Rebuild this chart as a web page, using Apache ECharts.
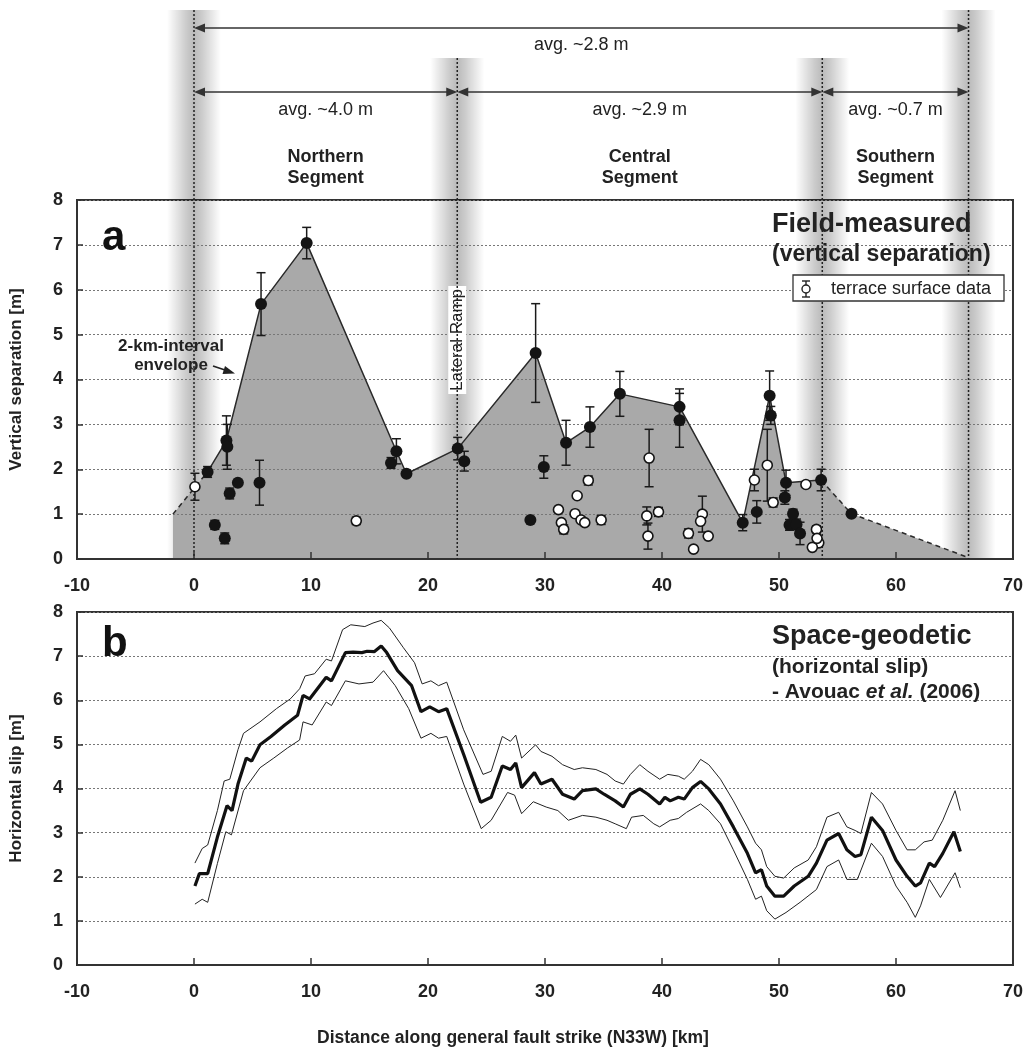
<!DOCTYPE html>
<html><head><meta charset="utf-8">
<script src="https://cdn.jsdelivr.net/npm/echarts@6/dist/echarts.min.js"></script>
<style>html,body{margin:0;padding:0;background:#fff}#c{width:1026px;height:1048px}</style>
</head><body><div id="c"></div>
<script>
// ---------- DATA ----------
// segment boundaries along strike [km]
const boundaryKm = [0, 22.5, 53.7, 66.2];
const segmentNames = ['Northern\nSegment', 'Central\nSegment', 'Southern\nSegment'];
// average-slip arrows
const avgFrom = [0, 0, 22.5, 53.7];
const avgTo = [66.2, 22.5, 53.7, 66.2];
const avgLabel = ['avg. ~2.8 m', 'avg. ~4.0 m', 'avg. ~2.9 m', 'avg. ~0.7 m'];

// panel a: field-measured vertical separation (filled = main data)
const solidKm  = [1.16, 2.77, 2.85, 1.78, 2.63, 3.05, 3.75, 5.6, 5.73, 9.63, 16.84, 17.3, 18.16, 22.54, 23.1, 28.75, 29.2, 29.9, 31.8, 33.84, 36.4, 41.5, 41.5, 46.9, 48.1, 49.2, 49.3, 50.6, 50.5, 51.2, 50.9, 51.5, 51.8, 53.6, 56.2];
const solidVal = [1.94, 2.64, 2.50, 0.76, 0.46, 1.46, 1.70, 1.70, 5.68, 7.04, 2.14, 2.40, 1.90, 2.46, 2.18, 0.87, 4.59, 2.05, 2.59, 2.94, 3.68, 3.39, 3.09, 0.81, 1.05, 3.64, 3.20, 1.70, 1.37, 1.01, 0.76, 0.77, 0.57, 1.76, 1.01];
const solidErr = [0.12, 0.55, 0.5, 0.1, 0.12, 0.12, 0.05, 0.5, 0.7, 0.35, 0.12, 0.28, 0.05, 0.25, 0.22, 0, 1.1, 0.25, 0.5, 0.45, 0.5, 0.4, 0.6, 0.18, 0.25, 0.55, 0.2, 0.28, 0.15, 0.1, 0.12, 0.12, 0.25, 0.24, 0];
// terrace surface data (open circles)
const openKm  = [0.08, 13.87, 31.15, 31.4, 31.6, 32.75, 33.7, 32.57, 33.08, 33.4, 34.8, 38.9, 38.7, 38.8, 39.7, 42.26, 42.7, 43.45, 43.3, 43.95, 47.9, 49.0, 49.5, 52.3, 53.2, 53.4, 52.85, 53.25];
const openVal = [1.61, 0.85, 1.10, 0.81, 0.66, 1.41, 1.75, 1.01, 0.87, 0.81, 0.87, 2.25, 0.96, 0.51, 1.05, 0.57, 0.22, 1.00, 0.84, 0.51, 1.76, 2.09, 1.26, 1.66, 0.66, 0.36, 0.26, 0.46];
const openErr = [0.3, 0.08, 0, 0, 0.1, 0.05, 0.1, 0, 0, 0.05, 0.1, 0.64, 0.2, 0.29, 0.1, 0.1, 0, 0.4, 0, 0, 0.24, 0.8, 0.1, 0, 0.08, 0, 0.05, 0];
// 2-km-interval envelope (indices 0-1 and 16-19 dashed)
const envKm  = [-1.8, 1.16, 2.77, 5.73, 9.63, 17.3, 18.16, 22.54, 29.2, 31.8, 33.84, 36.4, 41.5, 46.9, 49.2, 50.6, 53.6, 55.7, 56.2, 66.0];
const envVal = [1.0, 1.94, 2.64, 5.68, 7.04, 2.40, 1.90, 2.46, 4.59, 2.59, 2.94, 3.68, 3.39, 0.81, 3.64, 1.70, 1.76, 1.15, 1.01, 0.05];

// panel b: space-geodetic horizontal slip (Avouac et al. 2006)
const midKm = [0.08,0.46,1.17,2.0,2.82,3.25,3.76,4.47,4.93,5.64,6.58,7.76,8.85,9.32,9.88,11.3,11.75,12.94,13.6,14.35,14.8,15.4,16.0,16.47,17.4,18.6,19.4,20.15,20.9,21.6,23.05,24.5,25.4,26.35,27.05,27.5,28.0,29.1,29.65,30.6,31.5,32.5,33.2,34.35,35.05,36.0,36.7,37.3,38.1,38.8,39.8,40.25,40.7,41.4,41.9,42.6,43.3,44.0,45.0,46.1,47.3,48.0,48.5,48.95,49.65,50.4,51.3,52.5,53.2,54.1,55.1,55.8,56.5,57.0,57.9,58.85,60.0,60.95,61.65,62.1,62.85,63.3,64.0,64.95,65.5];
const midSlip = [1.79,2.07,2.07,2.9,3.61,3.5,4.10,4.69,4.62,4.99,5.18,5.44,5.66,6.11,6.03,6.52,6.44,7.08,7.09,7.08,7.11,7.1,7.23,7.08,6.67,6.33,5.74,5.85,5.74,5.81,4.77,3.69,3.80,4.51,4.43,4.58,4.02,4.36,4.10,4.21,3.87,3.76,3.95,3.99,3.87,3.72,3.58,3.87,3.99,3.87,3.65,3.80,3.72,3.80,3.76,4.02,4.16,3.99,3.65,3.13,2.53,2.09,2.16,1.79,1.56,1.56,1.79,2.01,2.31,2.83,2.98,2.61,2.46,2.5,3.35,3.05,2.38,2.01,1.79,1.86,2.31,2.23,2.53,3.02,2.57];
const upKm = [0.08,0.7,1.17,2.0,2.58,3.06,3.76,4.23,5.64,7.05,8.23,9.03,9.5,10.3,11.3,11.75,12.7,13.4,14.6,15.3,16.0,16.7,17.9,18.85,19.5,20.25,20.9,21.6,23.05,24.7,25.4,26.35,27.05,27.5,28.0,29.2,29.65,30.6,31.5,32.5,33.2,34.35,35.3,36.0,36.7,37.3,38.1,38.8,39.8,40.5,41.4,41.9,42.6,43.3,44.0,45.0,46.1,47.3,48.0,48.5,48.95,49.65,50.4,51.3,52.5,53.2,54.1,55.1,55.8,56.5,57.0,57.9,58.85,60.0,60.95,61.65,62.4,63.1,64.0,65.05,65.5];
const upSlip = [2.31,2.64,2.72,3.5,4.17,4.21,4.88,5.25,5.51,5.81,6.03,6.26,6.55,6.6,6.93,6.89,7.6,7.71,7.67,7.75,7.81,7.64,7.19,6.85,6.37,6.44,6.33,6.41,5.33,4.32,4.39,5.18,5.07,5.21,4.69,4.99,4.84,4.73,4.54,4.43,4.47,4.43,4.32,4.17,4.10,4.32,4.54,4.39,4.21,4.32,4.28,4.21,4.39,4.66,4.54,4.21,3.72,3.13,2.76,2.61,2.23,2.01,1.97,2.2,2.38,2.68,3.35,3.46,3.13,3.05,2.98,3.91,3.65,3.05,2.61,2.61,2.79,2.83,3.28,3.95,3.5];
const lowKm = [0.08,0.7,1.17,2.0,2.72,3.2,4.23,5.64,6.82,8.0,9.03,9.32,10.1,11.3,11.75,12.94,14.1,15.3,16.2,17.2,18.35,19.4,20.25,20.9,21.6,23.05,24.55,25.4,26.8,27.4,28.0,29.0,30.1,31.1,32.0,33.2,34.35,35.3,36.0,36.95,37.4,38.4,39.3,39.8,40.7,41.4,42.1,43.3,44.0,45.0,46.1,47.3,48.0,48.5,48.95,49.65,50.6,51.8,53.2,54.1,55.1,55.8,56.7,57.9,58.85,60.0,60.95,61.65,62.1,62.85,63.8,65.05,65.5];
const lowSlip = [1.38,1.49,1.42,2.3,3.02,2.95,3.95,4.47,4.69,4.92,5.1,5.51,5.44,5.96,5.88,6.44,6.37,6.41,6.67,6.33,5.81,5.14,5.25,5.14,5.18,4.1,3.09,3.28,3.91,3.85,3.43,3.7,3.58,3.5,3.28,3.39,3.35,3.28,3.2,3.09,3.35,3.39,3.2,3.13,3.28,3.32,3.46,3.65,3.5,3.2,2.61,1.94,1.49,1.56,1.23,1.04,1.19,1.42,1.71,2.23,2.38,1.94,1.94,2.76,2.46,1.79,1.42,1.08,1.34,1.94,1.53,2.09,1.75];

// ---------- CHART ----------
const FONT = "'Liberation Sans', Arial, Helvetica, sans-serif";
const INK = '#222';
const zip = (a, b, c) => a.map((v, i) => c ? [v, b[i], c[i]] : [v, b[i]]);

const chart = echarts.init(document.getElementById('c'), null, {renderer: 'canvas'});

function xAxisCfg(gi, name) {
  return {
    gridIndex: gi, type: 'value', min: -10, max: 70, interval: 10, z: 3,
    name: name || '', nameLocation: 'middle', nameGap: 64,
    nameTextStyle: {fontFamily: FONT, fontWeight: 'bold', fontSize: 17.5, color: INK, padding: [0, 64, 0, 0]},
    axisLine: {show: true, onZero: false, lineStyle: {color: '#333', width: 2}},
    axisTick: {show: true, inside: true, length: 7, lineStyle: {color: '#333', width: 1.5}},
    axisLabel: {fontFamily: FONT, fontWeight: 'bold', fontSize: 18, color: INK, margin: 18},
    splitLine: {show: false}
  };
}
function yAxisCfg(gi, name) {
  return {
    gridIndex: gi, type: 'value', min: 0, max: 8, interval: 1, z: 3,
    name: name, nameLocation: 'middle', nameGap: 52, nameRotate: 90,
    nameTextStyle: {fontFamily: FONT, fontWeight: 'bold', fontSize: 17, color: INK},
    axisLine: {show: true, onZero: false, lineStyle: {color: '#333', width: 2}},
    axisTick: {show: true, inside: true, length: 6, lineStyle: {color: '#333', width: 1.5}},
    axisLabel: {fontFamily: FONT, fontWeight: 'bold', fontSize: 18, color: INK, margin: 14},
    splitLine: {show: true, lineStyle: {color: '#777', width: 1, type: [2, 2]}}
  };
}

function errItem(params, api) {
  const x = api.value(0), y = api.value(1), e = api.value(2);
  if (!e) return null;
  const t = api.coord([x, y + e]), b = api.coord([x, y - e]);
  const w = 4.5, st = {stroke: '#1a1a1a', lineWidth: 1.5};
  return {type: 'group', children: [
    {type: 'line', shape: {x1: t[0], y1: t[1], x2: b[0], y2: b[1]}, style: st},
    {type: 'line', shape: {x1: t[0] - w, y1: t[1], x2: t[0] + w, y2: t[1]}, style: st},
    {type: 'line', shape: {x1: b[0] - w, y1: b[1], x2: b[0] + w, y2: b[1]}, style: st}
  ]};
}

// grey shaded columns at segment boundaries (under the envelope fill)
function bandItem(params, api) {
  const i = params.dataIndex;
  const p = api.coord([api.value(0), 0]);
  const outer = (i === 0 || i === boundaryKm.length - 1);
  const top = params.coordSys.y - (outer ? 190 : 142);
  const hw = 27;
  return {type: 'rect', shape: {x: p[0] - hw, y: top, width: hw * 2, height: p[1] - top},
    style: {fill: new echarts.graphic.LinearGradient(0, 0, 1, 0, [
      {offset: 0, color: 'rgba(0,0,0,0)'},
      {offset: 0.35, color: 'rgba(0,0,0,0.2)'},
      {offset: 0.5, color: 'rgba(0,0,0,0.27)'},
      {offset: 0.65, color: 'rgba(0,0,0,0.2)'},
      {offset: 1, color: 'rgba(0,0,0,0)'}])}};
}
// dotted boundary lines + "Lateral Ramp"
function boundaryLineItem(params, api) {
  const i = params.dataIndex;
  const p = api.coord([api.value(0), 0]);
  const outer = (i === 0 || i === boundaryKm.length - 1);
  const top = params.coordSys.y - (outer ? 190 : 142);
  const children = [];
  const cy = params.coordSys.y + 140;
  if (i === 1) {
    children.push({type: 'rect', shape: {x: p[0] - 9, y: cy - 54, width: 18, height: 108}, style: {fill: '#fff'}});
  }
  children.push({type: 'line', shape: {x1: p[0], y1: top, x2: p[0], y2: p[1]},
    style: {stroke: '#222', lineWidth: 1.5, lineDash: [2, 2]}});
  if (i === 1) {
    children.push({type: 'text', x: p[0], y: cy, rotation: Math.PI / 2,
      style: {text: 'Lateral Ramp', x: 0, y: 0, align: 'center', verticalAlign: 'middle', textAlign: 'center', textVerticalAlign: 'middle',
        font: '17px ' + FONT, fill: INK}});
  }
  return {type: 'group', children};
}
// average arrows and labels above panel a
function arrowItem(params, api) {
  const i = params.dataIndex;
  const x1 = api.coord([api.value(0), 0])[0], x2 = api.coord([api.value(1), 0])[0];
  const gy = params.coordSys.y;
  const y = gy - (i === 0 ? 172 : 108);
  const ly = gy - (i === 0 ? 155 : 90);
  const L = 11, H = 4.5, col = '#333';
  return {type: 'group', children: [
    {type: 'line', shape: {x1: x1 + 4, y1: y, x2: x2 - 4, y2: y}, style: {stroke: col, lineWidth: 1.6}},
    {type: 'polygon', shape: {points: [[x1, y], [x1 + L, y - H], [x1 + L, y + H]]}, style: {fill: col}},
    {type: 'polygon', shape: {points: [[x2, y], [x2 - L, y - H], [x2 - L, y + H]]}, style: {fill: col}},
    {type: 'text', style: {text: avgLabel[i], x: (x1 + x2) / 2, y: ly, textAlign: 'center', textVerticalAlign: 'middle', verticalAlign: 'middle',
      font: '18px ' + FONT, fill: INK}}
  ]};
}
function segNameItem(params, api) {
  const i = params.dataIndex;
  const x = api.coord([(api.value(0) + api.value(1)) / 2, 0])[0];
  const gy = params.coordSys.y;
  return {type: 'text', style: {text: segmentNames[i], x: x, y: gy - 32, textAlign: 'center', textVerticalAlign: 'middle', verticalAlign: 'middle',
    font: 'bold 18px ' + FONT, fill: INK, lineHeight: 21}};
}

const envAll = zip(envKm, envVal);
const envSolid = envAll.slice(1, 17);
const envDashL = envAll.slice(0, 2);
const envDashR = envAll.slice(16);
const segPairs = boundaryKm.slice(0, -1).map((b, i) => [b, boundaryKm[i + 1]]);

const option = {
  backgroundColor: '#fff',
  animation: false,
  grid: [
    {left: 71, top: 200, width: 942, height: 359, show: true, borderColor: '#333', borderWidth: 2, backgroundColor: 'rgba(0,0,0,0)', containLabel: false},
    {left: 71, top: 612, width: 942, height: 358, show: true, borderColor: '#333', borderWidth: 2, backgroundColor: 'rgba(0,0,0,0)', containLabel: false}
  ],
  xAxis: [xAxisCfg(0), xAxisCfg(1, 'Distance along general fault strike (N33W) [km]')],
  yAxis: [yAxisCfg(0, 'Vertical separation [m]'), yAxisCfg(1, 'Horizontal slip [m]')],
  series: [
    {type: 'custom', name: 'bands', xAxisIndex: 0, yAxisIndex: 0, z: 1, clip: false, silent: true,
      data: boundaryKm.map(k => [k, 0]), encode: {x: 0, y: 1}, renderItem: bandItem},
    {type: 'line', name: 'envelope fill', xAxisIndex: 0, yAxisIndex: 0, z: 2, data: envAll, symbol: 'none',
      lineStyle: {width: 0}, areaStyle: {color: '#a9a9a9', opacity: 1}},
    {type: 'line', name: 'envelope', xAxisIndex: 0, yAxisIndex: 0, z: 4, data: envSolid, symbol: 'none',
      lineStyle: {color: '#2a2a2a', width: 1.5}},
    {type: 'line', name: 'envelope dashed L', xAxisIndex: 0, yAxisIndex: 0, z: 4, data: envDashL, symbol: 'none',
      lineStyle: {color: '#2a2a2a', width: 1.5, type: [5, 4]}},
    {type: 'line', name: 'envelope dashed R', xAxisIndex: 0, yAxisIndex: 0, z: 4, data: envDashR, symbol: 'none',
      lineStyle: {color: '#2a2a2a', width: 1.5, type: [5, 4]}},
    {type: 'custom', name: 'boundaries', xAxisIndex: 0, yAxisIndex: 0, z: 4, clip: false, silent: true,
      data: boundaryKm.map(k => [k, 0]), encode: {x: 0, y: 1}, renderItem: boundaryLineItem},
    {type: 'custom', name: 'avg', xAxisIndex: 0, yAxisIndex: 0, z: 4, clip: false, silent: true,
      data: zip(avgFrom, avgTo), encode: {x: [0, 1]}, renderItem: arrowItem},
    {type: 'custom', name: 'segments', xAxisIndex: 0, yAxisIndex: 0, z: 4, clip: false, silent: true,
      data: segPairs, encode: {x: [0, 1]}, renderItem: segNameItem},
    {type: 'custom', name: 'err solid', xAxisIndex: 0, yAxisIndex: 0, z: 5, silent: true,
      data: zip(solidKm, solidVal, solidErr), encode: {x: 0, y: 1}, renderItem: errItem},
    {type: 'custom', name: 'err open', xAxisIndex: 0, yAxisIndex: 0, z: 5, silent: true,
      data: zip(openKm, openVal, openErr), encode: {x: 0, y: 1}, renderItem: errItem},
    {type: 'scatter', name: 'field', xAxisIndex: 0, yAxisIndex: 0, z: 6, symbol: 'circle', symbolSize: 12,
      data: zip(solidKm, solidVal), itemStyle: {color: '#141414', opacity: 1}},
    {type: 'scatter', name: 'terrace surface data', xAxisIndex: 0, yAxisIndex: 0, z: 7, symbol: 'circle', symbolSize: 10,
      data: zip(openKm, openVal), itemStyle: {color: '#fff', borderColor: '#141414', borderWidth: 1.6, opacity: 1}},
    {type: 'line', name: 'upper', xAxisIndex: 1, yAxisIndex: 1, z: 4, data: zip(upKm, upSlip), symbol: 'none',
      lineStyle: {color: '#222', width: 1}},
    {type: 'line', name: 'lower', xAxisIndex: 1, yAxisIndex: 1, z: 4, data: zip(lowKm, lowSlip), symbol: 'none',
      lineStyle: {color: '#222', width: 1}},
    {type: 'line', name: 'slip', xAxisIndex: 1, yAxisIndex: 1, z: 5, data: zip(midKm, midSlip), symbol: 'none',
      lineStyle: {color: '#111', width: 3.2}}
  ],
  graphic: [
    {type: 'text', z: 10, style: {text: 'a', x: 102, y: 238, textVerticalAlign: 'middle', verticalAlign: 'middle', font: 'bold 42px ' + FONT, fill: '#111'}},
    {type: 'text', z: 10, style: {text: 'b', x: 102, y: 644, textVerticalAlign: 'middle', verticalAlign: 'middle', font: 'bold 42px ' + FONT, fill: '#111'}},
    {type: 'text', z: 10, style: {text: 'Field-measured', x: 772, y: 225, textVerticalAlign: 'middle', verticalAlign: 'middle', font: 'bold 27px ' + FONT, fill: INK}},
    {type: 'text', z: 10, style: {text: '(vertical separation)', x: 772, y: 255, textVerticalAlign: 'middle', verticalAlign: 'middle', font: 'bold 23px ' + FONT, fill: INK}},
    {type: 'rect', z: 10, shape: {x: 793, y: 275, width: 211, height: 26}, style: {fill: '#fff', stroke: '#333', lineWidth: 1.3}},
    {type: 'line', z: 11, shape: {x1: 806, y1: 281, x2: 806, y2: 297}, style: {stroke: '#222', lineWidth: 1.4}},
    {type: 'line', z: 11, shape: {x1: 802, y1: 281, x2: 810, y2: 281}, style: {stroke: '#222', lineWidth: 1.4}},
    {type: 'line', z: 11, shape: {x1: 802, y1: 297, x2: 810, y2: 297}, style: {stroke: '#222', lineWidth: 1.4}},
    {type: 'circle', z: 12, shape: {cx: 806, cy: 289, r: 4}, style: {fill: '#fff', stroke: '#222', lineWidth: 1.4}},
    {type: 'text', z: 11, style: {text: 'terrace surface data', x: 831, y: 289, textVerticalAlign: 'middle', verticalAlign: 'middle', font: '18px ' + FONT, fill: INK}},
    {type: 'text', z: 10, style: {text: '2-km-interval\nenvelope', x: 171, y: 356, textAlign: 'center', textVerticalAlign: 'middle', verticalAlign: 'middle', font: 'bold 17px ' + FONT, fill: INK, lineHeight: 19}},
    {type: 'line', z: 10, shape: {x1: 213, y1: 366, x2: 228, y2: 371}, style: {stroke: '#222', lineWidth: 1.8}},
    {type: 'polygon', z: 10, shape: {points: [[235, 373.5], [225, 366], [222.5, 374]]}, style: {fill: '#222'}},
    {type: 'text', z: 10, style: {text: 'Space-geodetic', x: 772, y: 637, textVerticalAlign: 'middle', verticalAlign: 'middle', font: 'bold 27px ' + FONT, fill: INK}},
    {type: 'text', z: 10, style: {text: '(horizontal slip)', x: 772, y: 667, textVerticalAlign: 'middle', verticalAlign: 'middle', font: 'bold 21px ' + FONT, fill: INK}},
    {type: 'text', z: 10, style: {text: '{b|- Avouac }{i|et al.}{b| (2006)}', x: 772, y: 692, textVerticalAlign: 'middle', verticalAlign: 'middle', fill: INK,
      rich: {b: {font: 'bold 21px ' + FONT, fill: INK}, i: {font: 'italic bold 21px ' + FONT, fill: INK}}}}
  ]
};
chart.setOption(option);
</script>
</body></html>
